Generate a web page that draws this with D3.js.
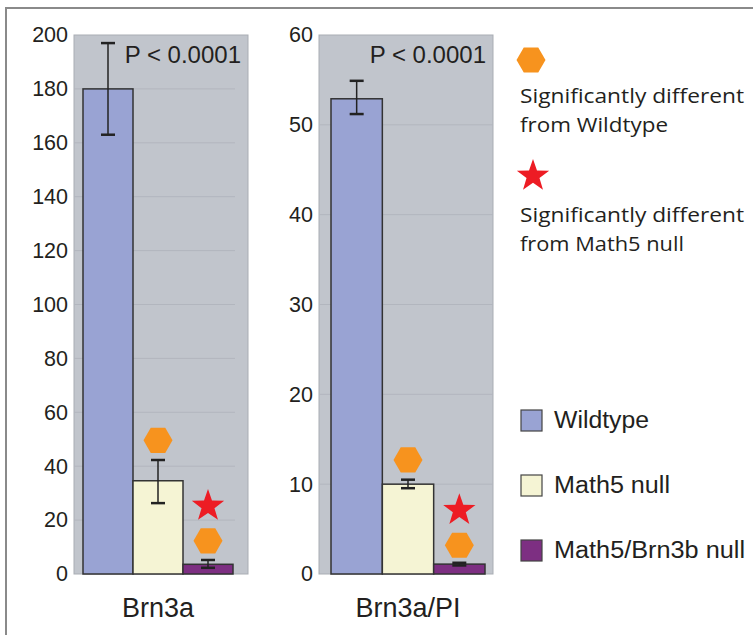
<!DOCTYPE html>
<html lang="en">
<head>
    <meta charset="UTF-8">
    <title>Brn3a</title>
    <script src="https://cdn.jsdelivr.net/npm/d3@7"></script>
    <style>
        body { margin: 0; background: #fff; }
    </style>
</head>
<body>
<div id="chart"></div>
<script>
    // groups and values
    const groups = ["Wildtype", "Math5 null", "Math5/Brn3b null"];
    const groupColors = ["#99a3d3", "#f5f4d4", "#7d2f82"];

    const brn3aMean = [180, 34.6, 3.6];
    const brn3aHi = [197, 42.3, 5.2];
    const brn3aLo = [163, 26.3, 2.3];

    const piMean = [52.9, 10, 1.1];
    const piHi = [54.9, 10.5, 1.25];
    const piLo = [51.2, 9.55, 0.95];

    const brn3aTicks = [0, 20, 40, 60, 80, 100, 120, 140, 160, 180, 200];
    const piTicks = [0, 10, 20, 30, 40, 50, 60];

    // significance markers: [group, y value, kind]
    const brn3aMarks = [["Math5 null", 49.6, "hex"], ["Math5/Brn3b null", 25.2, "star"], ["Math5/Brn3b null", 12.3, "hex"]];
    const piMarks = [["Math5 null", 12.7, "hex"], ["Math5/Brn3b null", 7.1, "star"], ["Math5/Brn3b null", 3.2, "hex"]];

    const W = 753, H = 635;
    const svg = d3.select("#chart").append("svg")
        .attr("width", W).attr("height", H);

    // outer frame (top + left only visible)
    svg.append("path")
        .attr("d", "M6,640 L6,8 L760,8")
        .attr("fill", "none").attr("stroke", "#8a8a8a").attr("stroke-width", 2);

    const hexPath = (cx, cy, r) => {
        const h = r * Math.sqrt(3) / 2;
        return `M${cx - r},${cy} L${cx - r / 2},${cy - h} L${cx + r / 2},${cy - h} L${cx + r},${cy} L${cx + r / 2},${cy + h} L${cx - r / 2},${cy + h} Z`;
    };
    const starPath = (cx, cy, R) => {
        const r = R * 0.4;
        let p = "";
        for (let i = 0; i < 10; i++) {
            const a = -Math.PI / 2 + i * Math.PI / 5;
            const rr = i % 2 ? r : R;
            p += (i ? "L" : "M") + (cx + rr * Math.cos(a)) + "," + (cy + rr * Math.sin(a));
        }
        return p + "Z";
    };

    function panel(opts) {
        const g = svg.append("g");
        const y = d3.scaleLinear().domain(opts.domain).range([574, 35]);
        const x = d3.scaleBand().domain(groups).range(opts.barRange).padding(0);

        g.append("rect")
            .attr("x", opts.left).attr("y", 35)
            .attr("width", opts.right - opts.left).attr("height", 574 - 35)
            .attr("fill", "#c1c5cc").attr("stroke", "#a9adb4").attr("stroke-width", 1);

        // gridlines
        g.selectAll(".grid").data(opts.ticks.filter(t => t > 0 && t < opts.domain[1]))
            .enter().append("line")
            .attr("x1", opts.left).attr("x2", opts.gridEnd)
            .attr("y1", d => y(d)).attr("y2", d => y(d))
            .attr("stroke", "#b2b6be").attr("stroke-width", 1);

        // y axis labels
        const ax = g.append("g")
            .attr("transform", `translate(${opts.left},0)`)
            .call(d3.axisLeft(y).tickValues(opts.ticks).tickSize(0).tickPadding(6));
        ax.select(".domain").remove();
        ax.selectAll("text")
            .attr("font-family", "Liberation Sans, Arial, sans-serif")
            .attr("font-size", 21.5).attr("fill", "#231f20");

        // bars
        g.selectAll(".bar").data(groups).enter().append("rect")
            .attr("x", d => x(d))
            .attr("y", (d, i) => y(opts.mean[i]))
            .attr("width", x.bandwidth())
            .attr("height", (d, i) => y(0) - y(opts.mean[i]))
            .attr("fill", (d, i) => groupColors[i])
            .attr("stroke", "#333").attr("stroke-width", 1.5);

        // error bars
        const cap = 7;
        groups.forEach((d, i) => {
            const cx = x(d) + x.bandwidth() / 2;
            g.append("line").attr("x1", cx).attr("x2", cx)
                .attr("y1", y(opts.hi[i])).attr("y2", y(opts.lo[i]))
                .attr("stroke", "#222").attr("stroke-width", 1.5);
            [opts.hi[i], opts.lo[i]].forEach(v => {
                g.append("line").attr("x1", cx - cap).attr("x2", cx + cap)
                    .attr("y1", y(v)).attr("y2", y(v))
                    .attr("stroke", "#222").attr("stroke-width", 2.5);
            });
        });

        // significance markers
        opts.marks.forEach(m => {
            const cx = x(m[0]) + x.bandwidth() / 2;
            g.append("path")
                .attr("d", m[2] === "hex" ? hexPath(cx, y(m[1]), 14.5) : starPath(cx, y(m[1]), 17))
                .attr("fill", m[2] === "hex" ? "#f7931e" : "#ed1c24");
        });

        g.append("text")
            .attr("x", opts.right - 7).attr("y", 63)
            .attr("text-anchor", "end")
            .attr("font-family", "Liberation Sans, Arial, sans-serif")
            .attr("font-size", 24).attr("fill", "#231f20")
            .text("P < 0.0001");

        g.append("text")
            .attr("x", (opts.barRange[0] + opts.barRange[1]) / 2).attr("y", 617)
            .attr("text-anchor", "middle")
            .attr("font-family", "Liberation Sans, Arial, sans-serif")
            .attr("font-size", 27).attr("fill", "#231f20")
            .text(opts.label);
    }

    panel({ domain: [0, 200], ticks: brn3aTicks, left: 74, right: 248, gridEnd: 235,
        barRange: [83, 233], mean: brn3aMean, hi: brn3aHi, lo: brn3aLo, marks: brn3aMarks, label: "Brn3a" });
    panel({ domain: [0, 60], ticks: piTicks, left: 319, right: 493, gridEnd: 493,
        barRange: [331, 485], mean: piMean, hi: piHi, lo: piLo, marks: piMarks, label: "Brn3a/PI" });

    // marker legend
    const lg = svg.append("g");
    lg.append("path").attr("d", hexPath(531, 60, 14.5)).attr("fill", "#f7931e");
    lg.append("path").attr("d", starPath(533, 176, 17)).attr("fill", "#ed1c24");
    const legText = [["Significantly different", 103, 224], ["from Wildtype", 132, 148],
        ["Significantly different", 222, 224], ["from Math5 null", 251, 164]];
    lg.selectAll(".lt").data(legText).enter().append("text")
        .attr("x", 520).attr("y", d => d[1])
        .attr("font-family", "Open Sans, Noto Sans, sans-serif")
        .attr("font-size", 20.5).attr("fill", "#231f20")
        .attr("textLength", d => d[2]).attr("lengthAdjust", "spacingAndGlyphs")
        .text(d => d[0]);

    // colour legend
    const legWidths = [95, 116, 191];
    const cl = svg.append("g");
    groups.forEach((d, i) => {
        const top = 410 + i * 65;
        cl.append("rect").attr("x", 521).attr("y", top).attr("width", 21).attr("height", 21)
            .attr("fill", groupColors[i]).attr("stroke", "#444").attr("stroke-width", 1.2);
        cl.append("text").attr("x", 554).attr("y", top + 18)
            .attr("font-family", "Liberation Sans, Arial, sans-serif")
            .attr("font-size", 23).attr("fill", "#231f20")
            .attr("textLength", legWidths[i]).attr("lengthAdjust", "spacingAndGlyphs")
            .text(d);
    });
</script>
</body>
</html>
